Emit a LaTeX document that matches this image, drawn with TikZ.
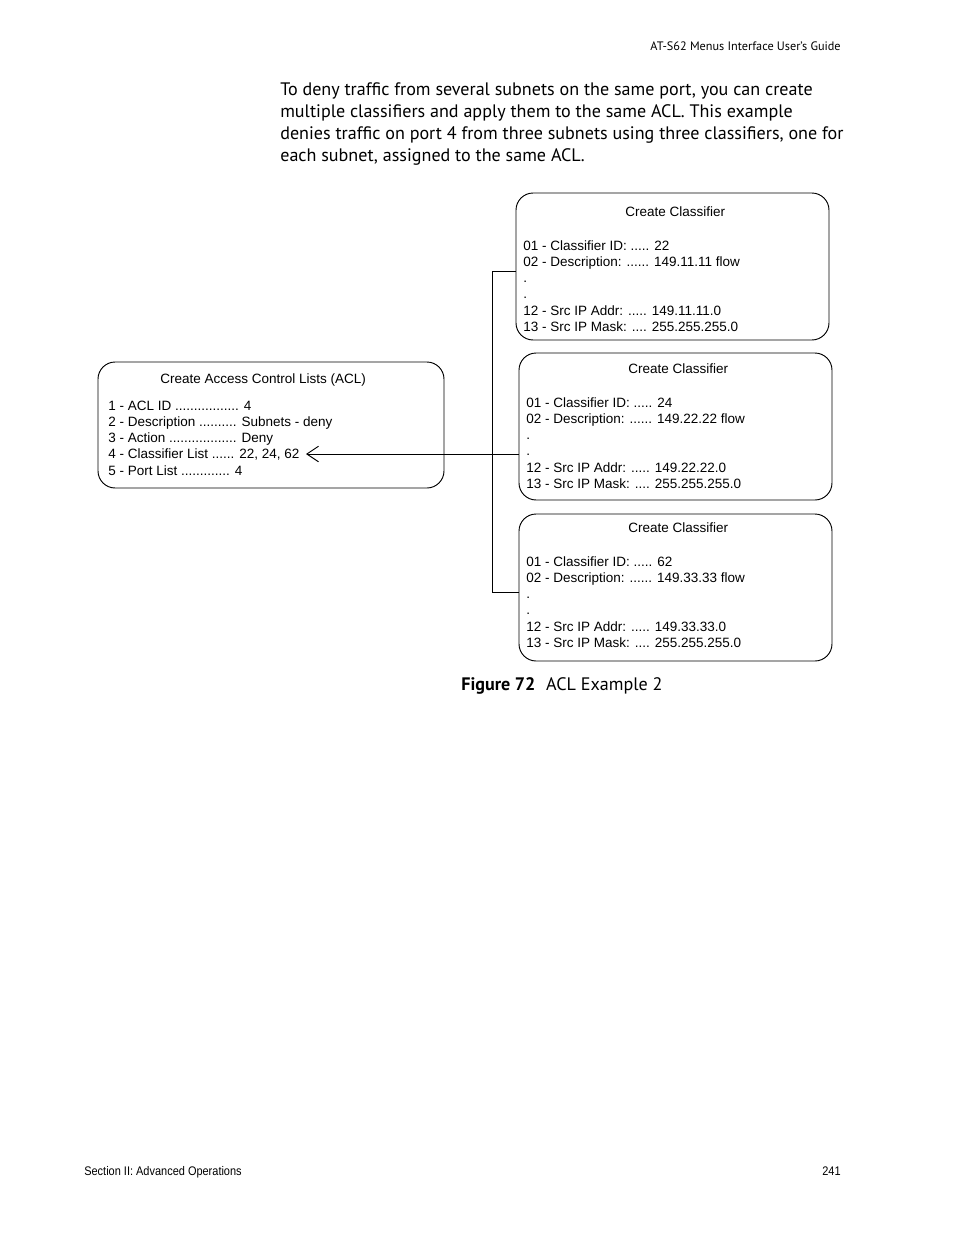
\documentclass[tikz,border=0pt]{standalone}
\usepackage{fontspec}
\setmainfont{PT Sans}
\newfontfamily\boxfont{Liberation Sans}
\newfontfamily\footfont[FakeStretch=0.88]{Liberation Sans}
\usetikzlibrary{arrows.meta,fit}

\tikzset{
  menubox/.style={draw, line width=0.6pt, rounded corners=11pt, inner sep=0pt},
  menutext/.style={font=\boxfont\fontsize{8.66}{10}\selectfont, anchor=base west, inner sep=0pt},
  bodytext/.style={font=\fontsize{11.6}{14}\selectfont, anchor=base west, inner sep=0pt},
  link/.style={line width=0.6pt},
}

\begin{document}
\begin{tikzpicture}[x=0.6415pt,y=-0.6415pt,>={Straight Barb[length=7.5pt,width=10pt]}]
\useasboundingbox (0,0) rectangle (954,1235);

% page header and text
\node[bodytext, anchor=base east, font=\fontsize{7.85}{10}\selectfont] (head) at (841,50) {AT-S62 Menus Interface User’s Guide};
\node[bodytext] (par1) at (280,95) {To deny traffic from several subnets on the same port, you can create};
\node[bodytext] (par2) at (280,117) {multiple classifiers and apply them to the same ACL. This example};
\node[bodytext] (par3) at (280,139) {denies traffic on port 4 from three subnets using three classifiers, one for};
\node[bodytext] (par4) at (280,161) {each subnet, assigned to the same ACL.};

% ACL menu
\node[menubox, fit={(98,362) (444,488)}] (acl) {};
\node[menutext] (acl-title) at (160,383) {Create Access Control Lists (ACL)};
\foreach \k/\txt in {0/{1 - ACL ID ................. 4},
                     1/{2 - Description .......... Subnets - deny},
                     2/{3 - Action .................. Deny},
                     3/{4 - Classifier List ...... 22, 24, 62},
                     4/{5 - Port List ............. 4}}
  \node[menutext] (acl-l\k) at (108,410+16.3*\k) {\txt};

% classifier menus
\foreach \n/\x/\y/\r/\b/\ty/\id/\net in {1/516/193/829/340/216/22/11,
                                         2/519/353/832/500/373/24/22,
                                         3/519/514/832/661/532/62/33}{
  \node[menubox, fit={(\x,\y) (\r,\b)}] (cls\n) {};
  \node[menutext] (cls\n-title) at (\x+109,\ty) {Create Classifier};
  \foreach \k/\txt in {0/{01 - Classifier ID: ..... \id},
                       1/{02 - Description: ...... 149.\net.\net{} flow},
                       2/{.},
                       3/{.},
                       4/{12 - Src IP Addr: ..... 149.\net.\net.0},
                       5/{13 - Src IP Mask: .... 255.255.255.0}}
    \node[menutext] (cls\n-l\k) at (\x+7,\ty+34+16.3*\k) {\txt};
}

% connectors
\coordinate (j1) at (492,271);
\coordinate (j2) at (492,454);
\coordinate (j3) at (492,592);
\coordinate (tip) at (306,454);
\draw[link] (cls1.west |- j1) -| (j3) -- (cls3.west |- j3);
\draw[link] (cls2.west |- j2) -- (j2);
\draw[link,->] (j2) -- (tip);

% caption and footer
\node[bodytext, font=\fontsize{11.6}{13}\selectfont] (caption) at (461,690) {\textbf{Figure 72}\hspace{0.6em}ACL Example 2};
\node[bodytext, font=\footfont\fontsize{8}{10}\selectfont] (foot) at (84,1175) {Section II: Advanced Operations};
\node[bodytext, anchor=base east, font=\footfont\fontsize{8}{10}\selectfont] (page) at (841,1175) {241};
\end{tikzpicture}
\end{document}
